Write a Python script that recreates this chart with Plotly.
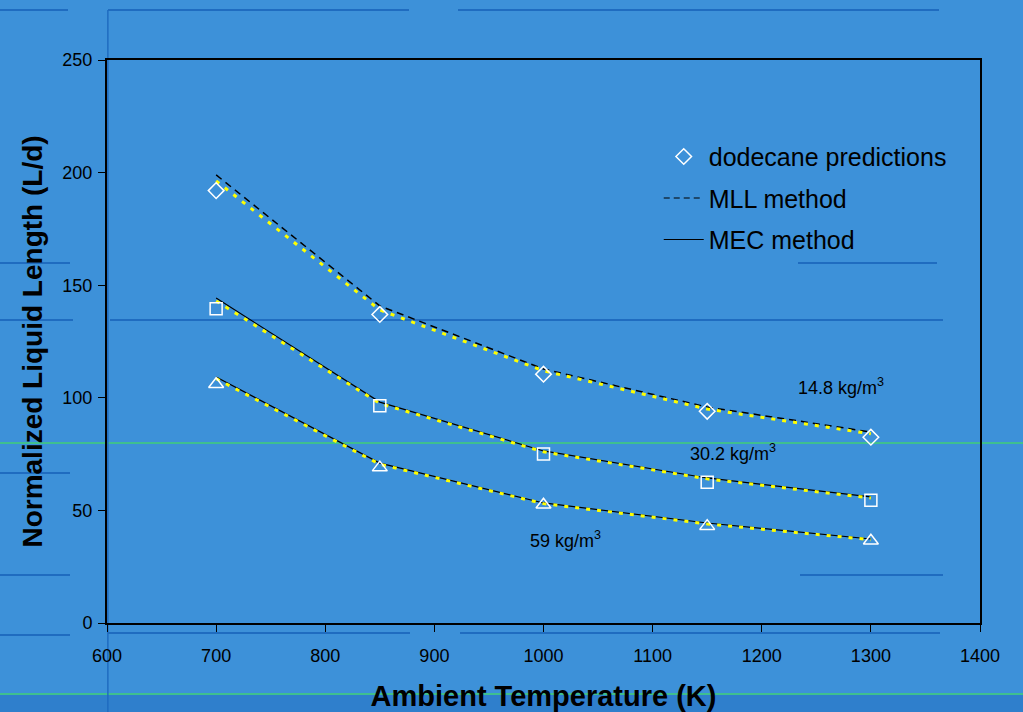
import plotly.graph_objects as go

temps = [700, 850, 1000, 1150, 1300]

# dodecane predictions (markers)
pred_148 = [192, 137, 110.5, 94, 82.5]
pred_302 = [139.5, 96.5, 75, 62.5, 54.5]
pred_59 = [106, 69, 52.5, 43, 36.5]

# MLL method (dashed, 14.8 kg/m3)
mll_148 = [199, 140.8, 112.8, 95.9, 84.8]
# MEC method (solid)
mec_302 = [144.3, 98.1, 76.4, 64.4, 56]
mec_59 = [109.2, 71, 53.3, 44.4, 37.3]

# yellow dotted curves
yel_148 = [196.3, 139, 112, 95, 84]
yel_302 = [143, 97.5, 76, 64, 55.5]
yel_59 = [108.5, 70.5, 53, 44, 37]

density_labels = ["14.8 kg/m<sup>3</sup>", "30.2 kg/m<sup>3</sup>", "59 kg/m<sup>3</sup>"]
label_x = [1273, 1174, 1020]
label_y = [105, 75.5, 37]

x_ticks = [600, 700, 800, 900, 1000, 1100, 1200, 1300, 1400]
y_ticks = [0, 50, 100, 150, 200, 250]

BG = "#3d91d9"
YEL = "#ffff00"
FONT = "Liberation Sans, Arial"

fig = go.Figure()

# black curves
fig.add_trace(go.Scatter(x=temps, y=mll_148, mode="lines", name="MLL method",
                         line=dict(color="black", width=1.5, dash="7px,5px"), showlegend=False))
fig.add_trace(go.Scatter(x=temps, y=mec_302, mode="lines", name="MEC method",
                         line=dict(color="black", width=1.2), showlegend=False))
fig.add_trace(go.Scatter(x=temps, y=mec_59, mode="lines", name="MEC method",
                         line=dict(color="black", width=1.2), showlegend=False))

# yellow dotted curves
for ys in (yel_148, yel_302, yel_59):
    fig.add_trace(go.Scatter(x=temps, y=ys, mode="lines", showlegend=False,
                             line=dict(color=YEL, width=3, dash="4px,7px")))

# markers
fig.add_trace(go.Scatter(x=temps, y=pred_148, mode="markers", name="dodecane predictions",
                         legendgroup="a",
                         marker=dict(symbol="diamond-open", size=12, color="white", line=dict(width=1.5, color="white"))))
fig.add_trace(go.Scatter(x=temps, y=pred_302, mode="markers", showlegend=False,
                         marker=dict(symbol="square-open", size=12, color="white", line=dict(width=1.5, color="white"))))
fig.add_trace(go.Scatter(x=temps, y=pred_59, mode="markers", showlegend=False,
                         marker=dict(symbol="triangle-up-open", size=13, color="white", line=dict(width=1.5, color="white"))))

# legend-only entries
fig.add_trace(go.Scatter(x=[None], y=[None], mode="lines", name="MLL method", legendgroup="b",
                         line=dict(color="black", width=1.2, dash="6px,4px")))
fig.add_trace(go.Scatter(x=[None], y=[None], mode="lines", name="MEC method", legendgroup="c",
                         line=dict(color="black", width=1.2)))

for t, lx, ly in zip(density_labels, label_x, label_y):
    fig.add_annotation(x=lx, y=ly, text=t, showarrow=False,
                       font=dict(size=18, color="black", family=FONT))

# background decoration lines
dark = "#1f6cc0"
deco = [
    (0, 68, 10), (108, 409, 10), (458, 939, 10),
    (0, 70, 263), (798, 937, 263),
    (0, 73, 320), (110, 943, 320),
    (0, 70, 473), (0, 70, 575), (800, 943, 575),
    (0, 70, 635), (108, 410, 633), (460, 940, 633),
]
for x0, x1, y in deco:
    fig.add_shape(type="line", xref="paper", yref="paper", layer="below",
                  x0=(x0 - 107) / 873, x1=(x1 - 107) / 873,
                  y0=(623 - y) / 563, y1=(623 - y) / 563,
                  line=dict(color=dark, width=2))
for y in (443, 694):
    fig.add_shape(type="line", xref="paper", yref="paper", layer="below",
                  x0=-107 / 873, x1=(1023 - 107) / 873,
                  y0=(623 - y) / 563, y1=(623 - y) / 563,
                  line=dict(color="#3fbf8f", width=2))
fig.add_shape(type="rect", xref="paper", yref="paper", layer="below",
              x0=-107 / 873, x1=(1023 - 107) / 873,
              y0=(623 - 712) / 563, y1=(623 - 695) / 563,
              line=dict(width=0), fillcolor="#2f7fcc")
fig.add_shape(type="line", xref="paper", yref="paper", layer="below",
              x0=0.001, x1=0.001, y0=(623 - 712) / 563, y1=(623 - 10) / 563,
              line=dict(color=dark, width=1.5))

fig.update_layout(
    width=1023, height=712,
    margin=dict(l=107, r=43, t=60, b=89),
    paper_bgcolor=BG, plot_bgcolor=BG,
    font=dict(family=FONT, color="black"),
    legend=dict(x=0.632, y=0.869, xanchor="left", yanchor="top",
                bgcolor="rgba(0,0,0,0)", font=dict(size=25, color="black"),
                itemwidth=40, tracegroupgap=6),
    xaxis=dict(range=[600, 1400], tickvals=x_ticks, ticks="outside", ticklen=7,
               tickcolor="black", showgrid=False, zeroline=False, automargin=False,
               showline=True, linecolor="black", linewidth=2, mirror=True,
               tickfont=dict(size=18), ticklabelstandoff=8,
               title=dict(text="<b>Ambient Temperature (K)</b>", font=dict(size=29), standoff=22)),
    yaxis=dict(range=[0, 250], tickvals=y_ticks, ticks="outside", ticklen=7,
               tickcolor="black", showgrid=False, zeroline=False, automargin=False,
               showline=True, linecolor="black", linewidth=2, mirror=True,
               tickfont=dict(size=18), ticklabelstandoff=2,
               title=dict(text="<b>Normalized Liquid Length (L/d)</b>", font=dict(size=28), standoff=12)),
)

fig.write_html("out.html", config={"displayModeBar": False},
               post_script="document.body.style.margin='0';document.body.style.overflow='hidden';")
